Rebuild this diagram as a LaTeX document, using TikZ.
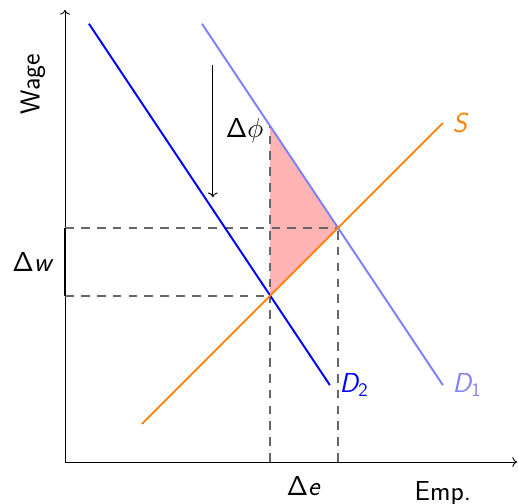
\documentclass[tikz,border=0pt]{standalone}
\usepackage{amsmath,amssymb}
\usepackage{xcolor}
\usepackage{tikz}
\usetikzlibrary{arrows.meta, positioning, calc}
\definecolor{supplyOrange}{RGB}{255, 128, 0}
\definecolor{oldDemand}{RGB}{128, 128, 255}
\definecolor{newDemand}{RGB}{0, 0, 255}
\definecolor{lossPink}{RGB}{255, 179, 179}
% sans letters in math
\DeclareSymbolFont{sfupright}{OT1}{cmss}{m}{n}
\DeclareMathSymbol{\sDelta}{\mathalpha}{sfupright}{"01}
\DeclareMathAlphabet{\mathsi}{OT1}{cmss}{m}{sl}
\DeclareMathAlphabet{\mathsu}{OT1}{cmss}{m}{n}

\begin{document}
\begin{tikzpicture}[font=\LARGE\sffamily,
    curve/.style={line width=1.2pt},
    guide/.style={dash pattern=on 5.5pt off 4.5pt, black!60, line width=1.1pt},
    axis/.style={->, line width=0.6pt}]
    \useasboundingbox (-1.438,-0.929) rectangle (10.022,10.221);

    % Key points
    \coordinate (O) at (0,0);
    \coordinate (E1) at (6.04,5.18);
    \coordinate (E2) at (4.54,3.68);
    \coordinate (T) at (4.54,7.43);
    \coordinate (W1) at (0,5.18);
    \coordinate (W2) at (0,3.68);
    \coordinate (L1) at (6.04,0);
    \coordinate (L2) at (4.54,0);

    % Shaded loss
    \fill[lossPink] (E2) -- (T) -- (E1) -- cycle;

    % Axes
    \coordinate (xend) at (10,0);
    \coordinate (yend) at (0,10);
    \draw[axis] (O) -- (yend);
    \draw[axis] (O) -- (xend);
    \node[rotate=90] (wage) at (-0.71,8.36) {Wage};
    \node[anchor=north] (emp) at (8.36,-0.30) {Emp.};

    % Guides
    \draw[guide] (W1) -- (E1);
    \draw[guide] (W2) -- (E2);
    \draw[guide] (L1) -- (E1);
    \draw[guide] (L2) -- (T);

    % Changes
    \draw[line width=1.2pt] (W2) -- node[left=0.1cm] (dw) {$\sDelta\mathsi{w}$} (W1);
    \path (L2) -- node[below=0.2cm] (de) {$\sDelta\mathsi{e}$} (L1);
    \coordinate (a1) at (3.27,8.78);
    \coordinate (a2) at (3.27,5.86);
    \draw[->, line width=0.6pt] (a1) -- node[right=0.16cm] (dphi) {$\sDelta\phi$} (a2);

    % Curves
    \coordinate (S0) at (1.70,0.84);
    \coordinate (S1) at (8.36,7.50);
    \coordinate (Da0) at (3.03,9.695);
    \coordinate (Da1) at (8.36,1.70);
    \coordinate (Db0) at (0.53,9.695);
    \coordinate (Db1) at (5.86,1.70);
    \draw[curve, oldDemand] (Da0) -- (Da1) node[right=0.08cm, text=oldDemand] (d1) {$\mathsi{D}_{\mathsu{1}}$};
    \draw[curve, newDemand] (Db0) -- (Db1) node[right=0.08cm, text=newDemand] (d2) {$\mathsi{D}_{\mathsu{2}}$};
    \draw[curve, supplyOrange] (S0) -- (S1) node[right=0.08cm, text=supplyOrange] (s) {$\mathsi{S}$};
\end{tikzpicture}
\end{document}
